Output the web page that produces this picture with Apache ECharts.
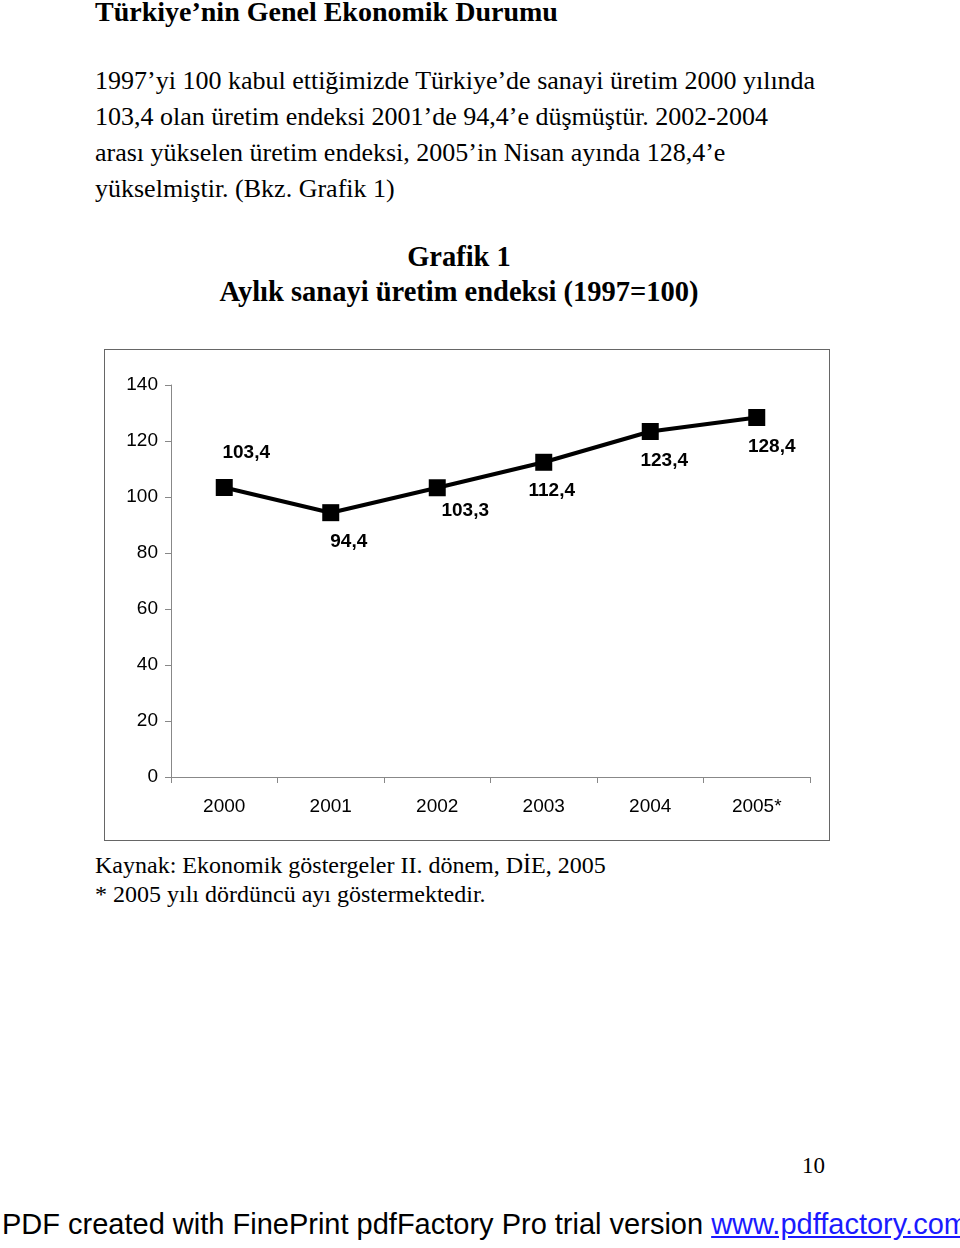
<!DOCTYPE html>
<html>
<head>
<meta charset="utf-8">
<script src="https://cdn.jsdelivr.net/npm/echarts@6/dist/echarts.min.js"></script>
<style>
  body { margin: 0; width: 960px; height: 1248px; background: #fff; position: relative; overflow: hidden; }
  .t { position: absolute; font-family: "Liberation Serif", serif; color: #000; white-space: nowrap; }
  .body { left: 95px; font-size: 26px; line-height: 36px; }
  #chart { position: absolute; left: 104px; top: 349px; width: 724px; height: 490px; border: 1px solid #666; }
  .foot { position: absolute; left: 2px; top: 1208px; font-family: "Liberation Sans", sans-serif; font-size: 29px; white-space: nowrap; }
  .foot a { color: #1a1aff; text-decoration: underline; }
</style>
</head>
<body>
<div class="t" style="left:95px; top:-4px; font-size:28px; font-weight:bold;">Türkiye’nin Genel Ekonomik Durumu</div>
<div class="t body" style="top:63px;">1997’yi 100 kabul ettiğimizde Türkiye’de sanayi üretim 2000 yılında<br>103,4 olan üretim endeksi 2001’de 94,4’e düşmüştür. 2002-2004<br>arası yükselen üretim endeksi, 2005’in Nisan ayında 128,4’e<br>yükselmiştir. (Bkz. Grafik 1)</div>
<div class="t" style="left:0; width:918px; text-align:center; top:239px; font-size:28.5px; font-weight:bold; line-height:35px;">Grafik 1<br>Aylık sanayi üretim endeksi (1997=100)</div>
<div id="chart"></div>
<div class="t" style="left:95px; top:851px; font-size:24px; line-height:29px;">Kaynak: Ekonomik göstergeler II. dönem, DİE, 2005<br>* 2005 yılı dördüncü ayı göstermektedir.</div>
<div class="t" style="left:802px; top:1153px; font-size:23px;">10</div>
<div class="foot">PDF created with FinePrint pdfFactory Pro trial version <a>www.pdffactory.com</a></div>
<script>
var years = ['2000', '2001', '2002', '2003', '2004', '2005*'];
var index = [103.4, 94.4, 103.3, 112.4, 123.4, 128.4];
var yTicks = [0, 20, 40, 60, 80, 100, 120, 140];
// where each value label sits relative to its marker
var labelOffsets = [[22, -35], [18, 29], [28, 23], [8, 28], [14, 29], [15, 29]];

var chart = echarts.init(document.getElementById('chart'));
chart.setOption({
  animation: false,
  grid: { left: 66, top: 35, right: 19, bottom: 63 },
  xAxis: {
    type: 'category',
    data: years,
    boundaryGap: true,
    axisLine: { lineStyle: { color: '#888', width: 1 } },
    axisTick: { show: true, length: 6, lineStyle: { color: '#888' } },
    axisLabel: { color: '#000', fontFamily: 'Liberation Sans', fontSize: 19, margin: 20 }
  },
  yAxis: {
    type: 'value',
    min: yTicks[0],
    max: yTicks[yTicks.length - 1],
    interval: 20,
    axisLine: { show: true, lineStyle: { color: '#888', width: 1 } },
    axisTick: { show: true, length: 6, lineStyle: { color: '#888' } },
    splitLine: { show: false },
    axisLabel: { color: '#000', fontFamily: 'Liberation Sans', fontSize: 19, margin: 13 }
  },
  series: [{
    type: 'line',
    data: index.map(function (v, i) {
      return {
        value: v,
        label: { offset: labelOffsets[i] }
      };
    }),
    symbol: 'rect',
    symbolSize: 17,
    itemStyle: { color: '#000' },
    lineStyle: { color: '#000', width: 4 },
    label: {
      show: true,
      position: 'inside',
      color: '#000',
      fontFamily: 'Liberation Sans',
      fontWeight: 'bold',
      fontSize: 19,
      formatter: function (p) { return String(p.value).replace('.', ','); }
    }
  }]
});
</script>
</body>
</html>
